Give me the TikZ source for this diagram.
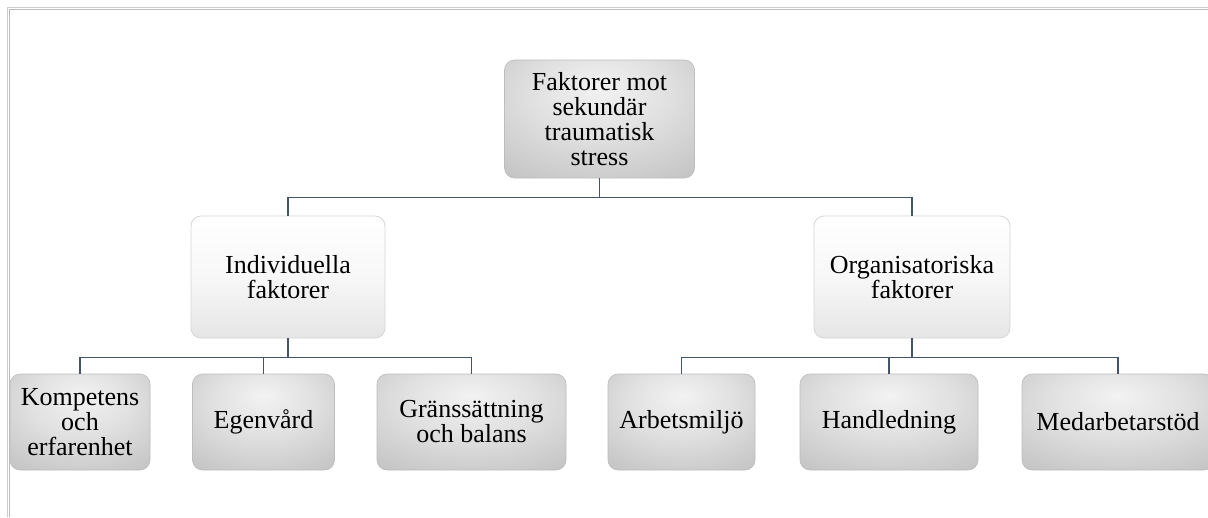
\documentclass[tikz,border=0pt]{standalone}
\usepackage{fontspec}
\setmainfont{Liberation Serif}
\definecolor{conn}{HTML}{44546A}
\definecolor{frameA}{HTML}{CCCCCC}
\definecolor{frameB}{HTML}{BBBBBB}
\definecolor{midedge}{HTML}{D6D6D6}
\definecolor{grayedge}{HTML}{BDBDBD}
\pgfdeclareradialshading{grayshade}{\pgfpoint{0bp}{14bp}}{%
  color(0bp)=(white!95!black); color(18bp)=(white!88!black);
  color(45bp)=(white!74!black); color(62bp)=(white!64!black);
  color(80bp)=(white!60!black)}
\pgfdeclareverticalshading{midshade}{100bp}{%
  color(0bp)=(white!86!black); color(25bp)=(white!90!black);
  color(50bp)=(white!97!black); color(75bp)=(white); color(100bp)=(white)}
\tikzset{
  graybox/.style={draw=grayedge, line width=0.6pt, shading=grayshade,
    rounded corners=10pt, align=center, inner sep=0pt,
    font=\fontsize{26}{25}\selectfont},
  midbox/.style={draw=midedge, line width=0.8pt, shading=midshade,
    rounded corners=10pt, align=center, inner sep=0pt,
    font=\fontsize{26}{25}\selectfont},
  link/.style={draw=conn, line width=1.3pt},
  framel/.style={line width=1.4pt}
}
\begin{document}
\begin{tikzpicture}[x=1pt,y=-1pt]
\useasboundingbox (0,0) rectangle (1208,517);
\clip (0,0) rectangle (1208,517);
\fill[white] (0,0) rectangle (1208,517);
% frame
\draw[framel, draw=frameA] (7.3,517) -- (7.3,7.3) -- (1208,7.3);
\draw[framel, draw=frameB] (9.5,517) -- (9.5,9.5) -- (1208,9.5);
% nodes
\node[graybox, minimum width=190pt, minimum height=118pt] (top) at (599.5,119) {Faktorer mot\\sekundär\\traumatisk\\stress};
\node[midbox, minimum width=194pt, minimum height=122pt] (ind) at (288,277) {Individuella\\faktorer};
\node[midbox, minimum width=196pt, minimum height=122pt] (org) at (912,277) {Organisatoriska\\faktorer};
\node[graybox, minimum width=140pt, minimum height=96pt] (b1) at (80,422) {Kompetens\\och\\erfarenhet};
\node[graybox, minimum width=142pt, minimum height=96pt] (b2) at (263.5,422) {Egenvård};
\node[graybox, minimum width=189pt, minimum height=96pt] (b3) at (471.5,422) {Gränssättning\\och balans};
\node[graybox, minimum width=147pt, minimum height=96pt] (b4) at (681.5,422) {Arbetsmiljö};
\node[graybox, minimum width=178pt, minimum height=96pt] (b5) at (889,422) {Handledning};
\node[graybox, minimum width=192pt, minimum height=96pt] (b6) at (1118,422) {Medarbetarstöd};
% connectors
\draw[link] (top.south) -- ++(0,19) -| (ind.north);
\draw[link] (top.south) -- ++(0,19) -| (org.north);
\draw[link] (ind.south) -- ++(0,19) -| (b1.north);
\draw[link] (ind.south) -- ++(0,19) -| (b2.north);
\draw[link] (ind.south) -- ++(0,19) -| (b3.north);
\draw[link] (org.south) -- ++(0,19) -| (b4.north);
\draw[link] (org.south) -- ++(0,19) -| (b5.north);
\draw[link] (org.south) -- ++(0,19) -| (b6.north);
\end{tikzpicture}
\end{document}
